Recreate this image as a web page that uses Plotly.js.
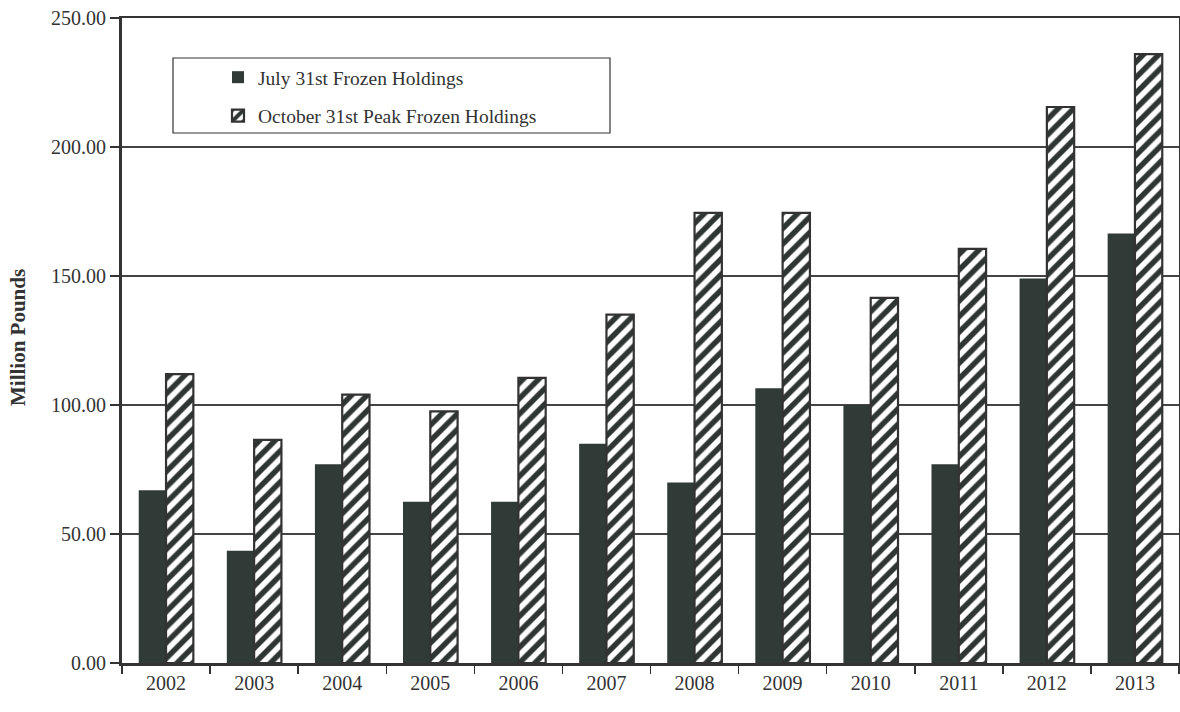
<!DOCTYPE html>
<html>
<head>
<meta charset="utf-8">
<script src="https://cdn.plot.ly/plotly-3.0.1.min.js"></script>
<style>html,body{margin:0;padding:0;background:#fff;}#chart{width:1180px;height:712px;}</style>
</head>
<body>
<div id="chart"></div>
<script>
var years = ["2002","2003","2004","2005","2006","2007","2008","2009","2010","2011","2012","2013"];
var julyHoldings = [67, 43.5, 77, 62.5, 62.5, 85, 70, 106.5, 100, 77, 149, 166.5];
var octoberPeak = [112, 86.5, 104, 97.5, 110.5, 135, 174.5, 174.5, 141.5, 160.5, 215.5, 236];
var yTicks = [0, 50, 100, 150, 200, 250];
var seriesNames = ["July 31st Frozen Holdings", "October 31st Peak Frozen Holdings"];

var ink = "#333333";
var serif = "Liberation Serif, Times New Roman, serif";

var traces = [
  {
    type: "bar", x: years, y: julyHoldings, name: seriesNames[0], legendgroup: "a",
    marker: {color: "#303a37", line: {width: 0}}
  },
  {
    type: "bar", x: years, y: octoberPeak, name: seriesNames[1], legendgroup: "b",
    marker: {color: "#ffffff", line: {color: "#333", width: 2.2},
      pattern: {shape: "/", fgcolor: "#2f3533", bgcolor: "#ffffff", size: 11, solidity: 0.5}}
  }
];

var L = 122, T = 18, W = 1057, H = 645;
function px(x){ return (x - L) / W; }
function py(y){ return (T + H - y) / H; }

var layout = {
  width: 1180, height: 712,
  margin: {l: L, r: 1180 - L - W, t: T, b: 712 - T - H, pad: 0},
  paper_bgcolor: "#ffffff", plot_bgcolor: "#ffffff",
  font: {family: serif, color: ink, size: 20},
  barmode: "group", bargap: 0.38, bargroupgap: 0,
  showlegend: true,
  legend: {
    x: px(218), y: py(58), xanchor: "left", yanchor: "top",
    bgcolor: "rgba(0,0,0,0)", borderwidth: 0,
    font: {family: serif, size: 19.5, color: ink},
    tracegroupgap: 10, traceorder: "grouped"
  },
  xaxis: {
    type: "category", tickson: "boundaries", ticks: "outside", ticklen: 8, tickwidth: 1.5, tickcolor: ink,
    showline: true, linecolor: ink, linewidth: 2.5, mirror: true,
    showgrid: false, tickfont: {family: serif, size: 20, color: ink}, fixedrange: true
  },
  yaxis: {
    range: [0, 250], tickvals: yTicks, ticktext: yTicks.map(function(v){return v.toFixed(2);}),
    ticks: "outside", ticklen: 9, tickwidth: 1.5, tickcolor: ink,
    showline: true, linecolor: ink, linewidth: 3, mirror: true,
    showgrid: true, gridcolor: "#444", gridwidth: 1.4, zeroline: false,
    tickfont: {family: serif, size: 20, color: ink}, fixedrange: true
  },
  shapes: [
    {type: "rect", xref: "paper", yref: "paper", x0: px(173), x1: px(610), y0: py(133), y1: py(58),
     line: {color: ink, width: 1.2}, fillcolor: "rgba(0,0,0,0)", layer: "above"}
  ],
  annotations: [
    {text: "<b>Million Pounds</b>", xref: "paper", yref: "paper", x: 0, y: py(338), xshift: -104,
     textangle: -90, showarrow: false, font: {family: serif, size: 21, color: ink}, xanchor: "center", yanchor: "middle"}
  ]
};

Plotly.newPlot("chart", traces, layout, {displayModeBar: false, staticPlot: true});
</script>
</body>
</html>
